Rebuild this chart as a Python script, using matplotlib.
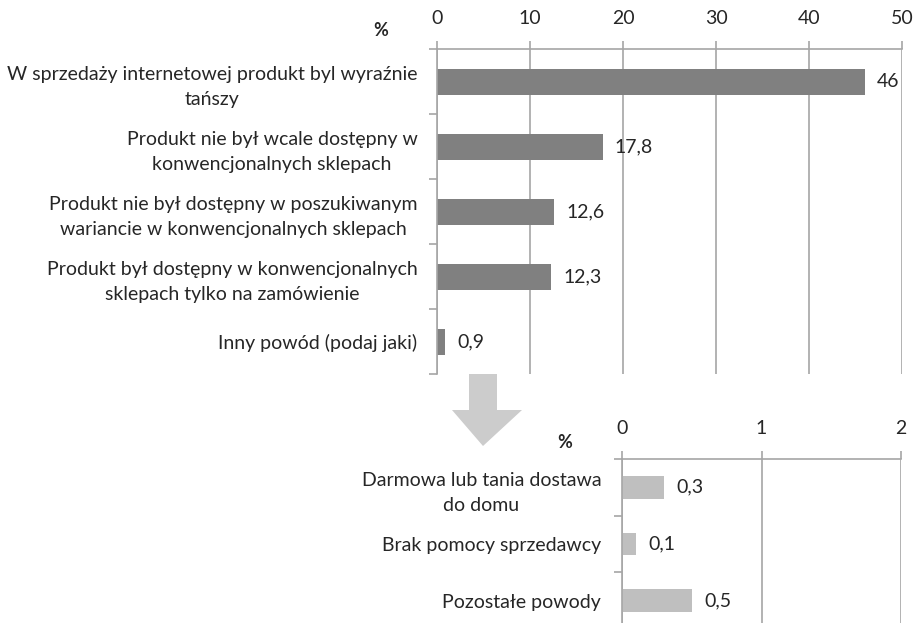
import matplotlib

matplotlib.use("Agg")
import matplotlib.pyplot as plt
from matplotlib.patches import Polygon

plt.rcParams["font.family"] = ["Lato", "DejaVu Sans"]

# main reasons (%)
main_labels = [
    "W sprzedaży internetowej produkt byl wyraźnie\ntańszy",
    "Produkt nie był wcale dostępny w\nkonwencjonalnych sklepach",
    "Produkt nie był dostępny w poszukiwanym\nwariancie w konwencjonalnych sklepach",
    "Produkt był dostępny w konwencjonalnych\nsklepach tylko na zamówienie",
    "Inny powód (podaj jaki)",
]
main_values = [46, 17.8, 12.6, 12.3, 0.9]
main_ticks = [0, 10, 20, 30, 40, 50]

# breakdown of "Inny powód" (%)
other_labels = [
    "Darmowa lub tania dostawa\ndo domu",
    "Brak pomocy sprzedawcy",
    "Pozostałe powody",
]
other_values = [0.3, 0.1, 0.5]
other_ticks = [0, 1, 2]

W, H = 916, 623
GRID = "#a6a6a6"
TXT = "#262626"
FS = 14


def fmt(v):
    return f"{v:g}".replace(".", ",")


def style(ax, labels, ticks, ylabel_pad):
    ax.set_xlim(ticks[0], ticks[-1])
    ax.set_xticks(ticks)
    ax.xaxis.tick_top()
    ax.grid(axis="x", color=GRID, lw=1.2)
    ax.set_axisbelow(True)
    for s in ("right", "bottom"):
        ax.spines[s].set_visible(False)
    for s in ("top", "left"):
        ax.spines[s].set_color(GRID)
        ax.spines[s].set_linewidth(1.2)
    ax.set_yticks([i + 0.5 for i in range(-1, len(labels))], minor=True)
    ax.set_yticks(range(len(labels)))
    ax.set_yticklabels(labels, ha="right", multialignment="center",
                       linespacing=1.6)
    ax.tick_params(axis="y", which="major", length=0, pad=ylabel_pad,
                   labelsize=FS, labelcolor=TXT)
    ax.tick_params(axis="y", which="minor", length=6, color=GRID, width=1.2)
    ax.tick_params(axis="x", length=6, color=GRID, width=1.2, pad=10,
                   labelsize=FS, labelcolor=TXT)
    ax.set_ylim(len(labels) - 0.5, -0.5)


fig = plt.figure(figsize=(W / 100, H / 100), dpi=100)

ax1 = fig.add_axes([437 / W, 1 - 374 / H, (902 - 437) / W, (374 - 49) / H])
ax1.barh(range(len(main_values)), main_values, height=0.4, color="#808080")
style(ax1, main_labels, main_ticks, 14)
for i, v in enumerate(main_values):
    ax1.text(v + 1.3, i, fmt(v), va="center", ha="left", fontsize=FS, color=TXT)

ax2 = fig.add_axes([622 / W, 1 - 629 / H, (901 - 622) / W, (629 - 459) / H])
ax2.barh(range(len(other_values)), other_values, height=0.4, color="#bfbfbf")
style(ax2, other_labels, other_ticks, 15)
for i, v in enumerate(other_values):
    ax2.text(v + 0.09, i, fmt(v), va="center", ha="left", fontsize=FS, color=TXT)

fig.text(381 / W, 1 - 30 / H, "%", ha="center", va="center",
         fontsize=13, fontweight="bold", color=TXT)
fig.text(565 / W, 1 - 442 / H, "%", ha="center", va="center",
         fontsize=13, fontweight="bold", color=TXT)

# down arrow between the two panels
arrow_px = [(469, 374), (497, 374), (497, 410), (522, 410), (483, 446),
            (452, 410), (469, 410)]
fig.patches.append(Polygon([(x / W, 1 - y / H) for x, y in arrow_px],
                           closed=True, transform=fig.transFigure,
                           facecolor="#cccccc", edgecolor="none"))

fig.savefig("out.png", dpi=100)
